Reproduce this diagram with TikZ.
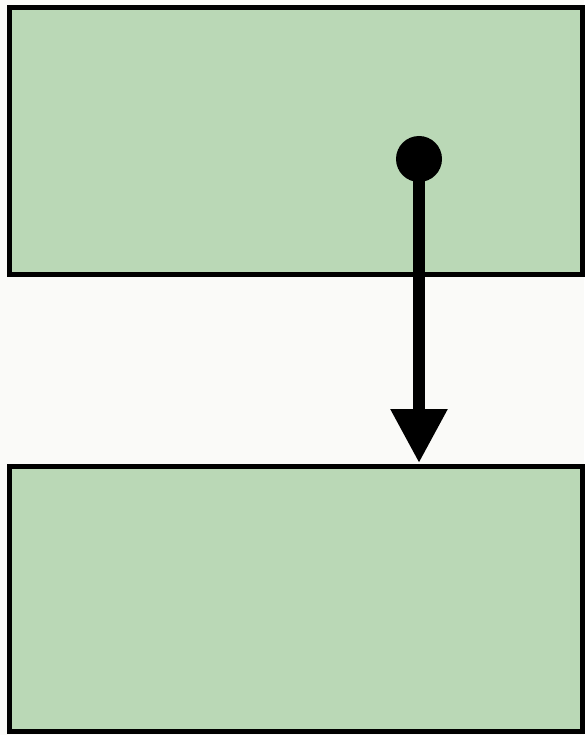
\documentclass[tikz,border=0pt]{standalone}
\usetikzlibrary{arrows.meta}
\definecolor{bgc}{HTML}{FAFAF8}
\definecolor{boxg}{HTML}{BAD8B6}
\tikzset{
  greenbox/.style={draw=black, fill=boxg, line width=5pt, minimum width=572.5pt, inner sep=0pt, outer sep=0pt},
  conn/.style={line width=12pt, -{Triangle[length=54pt,width=54pt]}}
}
\begin{document}
\begin{tikzpicture}[x=1pt,y=-1pt]
\fill[bgc] (0,0) rectangle (584,735);
\useasboundingbox (0,0) rectangle (584,735);
\node[greenbox, minimum height=267pt] (top) at (295.75,141) {};
\node[greenbox, minimum height=265.5pt] (bot) at (295.75,598.75) {};
\coordinate (s) at (419,159);
\coordinate (e) at (419,463);
\draw[conn] (s) -- (e);
\fill (s) circle (23);
\end{tikzpicture}
\end{document}
